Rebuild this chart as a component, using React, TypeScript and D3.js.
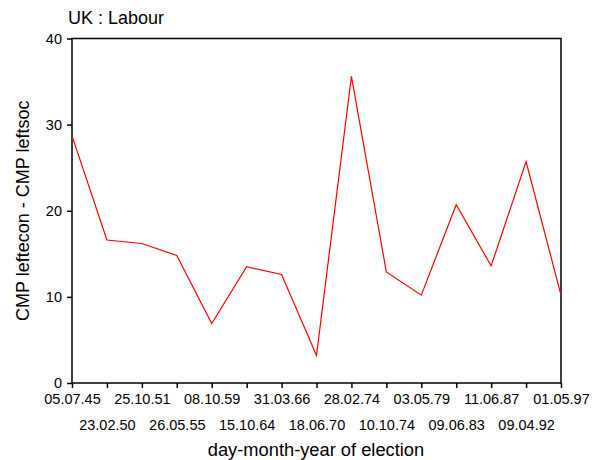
import React, { useEffect, useRef } from 'react';
import * as d3 from 'd3';

// election dates (x categories)
const elections = [
  '05.07.45', '23.02.50', '25.10.51', '26.05.55', '08.10.59', '15.10.64', '31.03.66',
  '18.06.70', '28.02.74', '10.10.74', '03.05.79', '09.06.83', '11.06.87', '09.04.92', '01.05.97',
];

// CMP leftecon - CMP leftsoc
const diffValues = [28.7, 16.6, 16.2, 14.8, 6.9, 13.5, 12.6, 3.2, 35.6, 12.9, 10.2, 20.7, 13.6, 25.7, 10.2];

const yTicks = [0, 10, 20, 30, 40];

const App: React.FC = () => {
  const svgRef = useRef<SVGSVGElement | null>(null);

  useEffect(() => {
    const svg = d3.select(svgRef.current);
    svg.selectAll('*').remove();

    const width = 600;
    const height = 460;
    const left = 72, right = 561, top = 38.5, bottom = 383;
    const font = '"Liberation Sans", Arial, sans-serif';

    const x = d3.scalePoint<string>().domain(elections).range([left, right]);
    const y = d3.scaleLinear().domain([0, 40]).range([bottom, top]);

    svg.attr('width', width).attr('height', height);

    // title
    svg.append('text')
      .attr('x', 68).attr('y', 24)
      .attr('font-family', font).attr('font-size', 18)
      .text('UK : Labour');

    // plot frame
    svg.append('rect')
      .attr('x', left).attr('y', top)
      .attr('width', right - left).attr('height', bottom - top)
      .attr('fill', 'none').attr('stroke', '#000').attr('stroke-width', 1.5);

    // y axis
    const yAxis = svg.append('g')
      .attr('transform', `translate(${left},0)`)
      .call(d3.axisLeft(y).tickValues(yTicks).tickSize(5).tickPadding(5).tickFormat(d3.format('d')));
    yAxis.select('.domain').remove();
    yAxis.selectAll('line').attr('stroke', '#000').attr('stroke-width', 1.5);
    yAxis.selectAll('text')
      .attr('font-family', font).attr('font-size', 14.5).attr('fill', '#000');

    // x axis
    const xAxis = svg.append('g')
      .attr('transform', `translate(0,${bottom})`)
      .call(d3.axisBottom(x).tickSize(5).tickPadding(6));
    xAxis.select('.domain').remove();
    xAxis.selectAll('line').attr('stroke', '#000').attr('stroke-width', 1.5);
    xAxis.selectAll<SVGTextElement, string>('text')
      .attr('font-family', font).attr('font-size', 14.5).attr('fill', '#000')
      .attr('dy', (_d, i) => (i % 2 === 0 ? '0.71em' : '2.45em'));

    // axis titles
    svg.append('text')
      .attr('x', 316).attr('y', 456)
      .attr('text-anchor', 'middle')
      .attr('font-family', font).attr('font-size', 18.3)
      .text('day-month-year of election');

    svg.append('text')
      .attr('transform', `translate(29,${(top + bottom) / 2}) rotate(-90)`)
      .attr('text-anchor', 'middle')
      .attr('font-family', font).attr('font-size', 18)
      .text('CMP leftecon - CMP leftsoc');

    // data line
    const line = d3.line<number>()
      .x((_d, i) => x(elections[i]) as number)
      .y(d => y(d));

    svg.append('path')
      .datum(diffValues)
      .attr('d', line)
      .attr('fill', 'none')
      .attr('stroke', '#ff0000')
      .attr('stroke-width', 1.2);
  }, []);

  return (
    <div style={{ position: 'absolute', left: 0, top: 0 }}>
      <svg ref={svgRef} />
    </div>
  );
};

export default App;
